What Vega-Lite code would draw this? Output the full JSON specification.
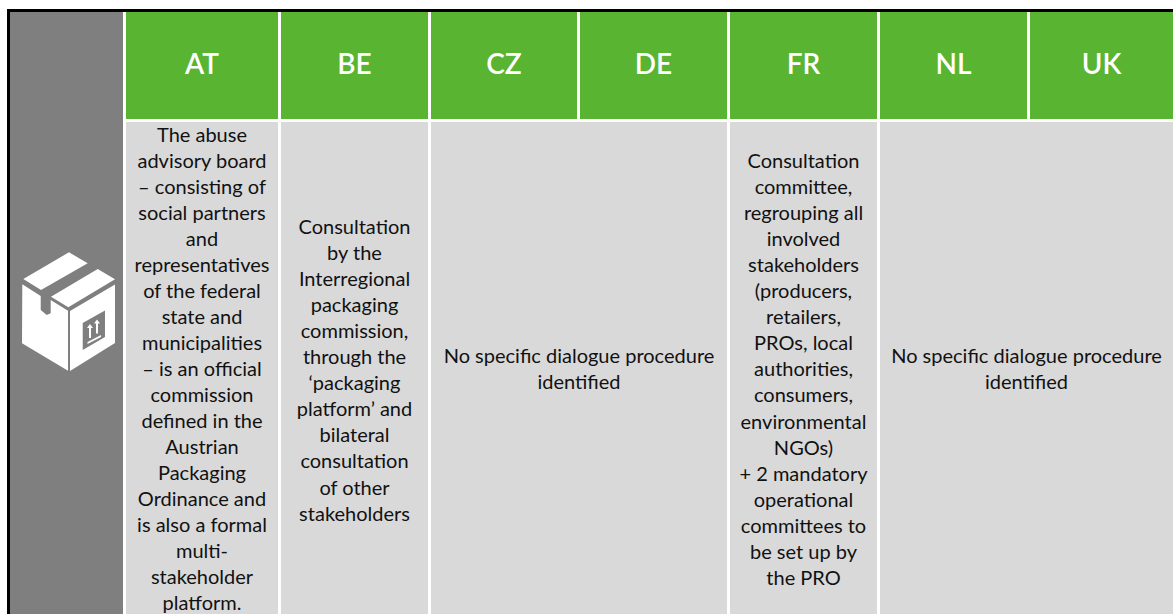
{
  "$schema": "https://vega.github.io/schema/vega-lite/v6.json",
  "width": 1173,
  "height": 614,
  "padding": 0,
  "autosize": "none",
  "background": "white",
  "view": {"stroke": null},
  "datasets": {
    "cells": [
      {"part": "frame", "col": "top", "x0": 7, "x1": 1173, "y0": 9, "y1": 12},
      {"part": "frame", "col": "left", "x0": 7, "x1": 10, "y0": 9, "y1": 614},
      {"part": "side", "col": "icon", "x0": 10, "x1": 123, "y0": 12, "y1": 614},
      {"part": "header", "col": "AT", "x0": 126, "x1": 278, "y0": 12, "y1": 119},
      {"part": "header", "col": "BE", "x0": 281, "x1": 428, "y0": 12, "y1": 119},
      {"part": "header", "col": "CZ", "x0": 431, "x1": 577, "y0": 12, "y1": 119},
      {"part": "header", "col": "DE", "x0": 580, "x1": 727, "y0": 12, "y1": 119},
      {"part": "header", "col": "FR", "x0": 730, "x1": 877, "y0": 12, "y1": 119},
      {"part": "header", "col": "NL", "x0": 880, "x1": 1027, "y0": 12, "y1": 119},
      {"part": "header", "col": "UK", "x0": 1030, "x1": 1173, "y0": 12, "y1": 119},
      {"part": "body", "col": "AT", "x0": 126, "x1": 278, "y0": 122, "y1": 614},
      {"part": "body", "col": "BE", "x0": 281, "x1": 428, "y0": 122, "y1": 614},
      {"part": "body", "col": "CZ-DE", "x0": 431, "x1": 727, "y0": 122, "y1": 614},
      {"part": "body", "col": "FR", "x0": 730, "x1": 877, "y0": 122, "y1": 614},
      {"part": "body", "col": "NL-UK", "x0": 880, "x1": 1173, "y0": 122, "y1": 614}
    ],
    "headers": [
      {"label": "AT", "cx": 202, "cy": 66},
      {"label": "BE", "cx": 354.5, "cy": 66},
      {"label": "CZ", "cx": 504, "cy": 66},
      {"label": "DE", "cx": 653.5, "cy": 66},
      {"label": "FR", "cx": 803.5, "cy": 66},
      {"label": "NL", "cx": 953.5, "cy": 66},
      {"label": "UK", "cx": 1101.5, "cy": 66}
    ],
    "bodies": [
      {"label": "The abuse\nadvisory board\n– consisting of\nsocial partners\nand\nrepresentatives\nof the federal\nstate and\nmunicipalities\n– is an official\ncommission\ndefined in the\nAustrian\nPackaging\nOrdinance and\nis also a formal\nmulti-\nstakeholder\nplatform.", "cx": 202, "cy": 135.5},
      {"label": "Consultation\nby the\nInterregional\npackaging\ncommission,\nthrough the\n‘packaging\nplatform’ and\nbilateral\nconsultation\nof other\nstakeholders", "cx": 354.5, "cy": 228},
      {"label": "No specific dialogue procedure\nidentified", "cx": 579, "cy": 357},
      {"label": "Consultation\ncommittee,\nregrouping all\ninvolved\nstakeholders\n(producers,\nretailers,\nPROs, local\nauthorities,\nconsumers,\nenvironmental\nNGOs)\n+ 2 mandatory\noperational\ncommittees to\nbe set up by\nthe PRO", "cx": 803.5, "cy": 162},
      {"label": "No specific dialogue procedure\nidentified", "cx": 1026.5, "cy": 357}
    ],
    "icons": [{"name": "packaging", "cx": 68.5, "cy": 311.5}]
  },
  "layer": [
    {
      "data": {"name": "cells"},
      "mark": {"type": "rect", "strokeWidth": 0},
      "encoding": {
        "x": {"field": "x0", "type": "quantitative", "scale": {"domain": [0, 1173], "range": [0, 1173], "nice": false, "zero": false}, "axis": null},
        "x2": {"field": "x1"},
        "y": {"field": "y0", "type": "quantitative", "scale": {"domain": [0, 614], "range": [0, 614], "nice": false, "zero": false}, "axis": null},
        "y2": {"field": "y1"},
        "color": {"field": "part", "type": "nominal", "legend": null, "scale": {"domain": ["frame", "side", "header", "body"], "range": ["#000000", "#7F7F7F", "#58B431", "#D9D9D9"]}}
      }
    },
    {
      "data": {"name": "icons"},
      "mark": {
        "type": "point", "filled": true, "fill": "#FFFFFF", "stroke": null, "opacity": 1, "size": 14400,
        "shape": "M0.008,-0.987L0.32,-0.803L-0.458,-0.358L-0.753,-0.542ZM0.487,-0.708L0.775,-0.537L-0.003,-0.07L-0.292,-0.247ZM-0.77,-0.453L-0.463,-0.258L-0.463,-0.025L-0.363,0.058L-0.297,0.03L-0.297,-0.192L-0.008,-0.013L-0.008,0.987L-0.775,0.53ZM0.025,-0.008L0.775,-0.45L0.775,0.525L0.025,0.992ZM0.237,0.192L0.237,0.642L0.608,0.425L0.608,-0.017ZM0.358,0.208L0.408,0.275L0.375,0.275L0.375,0.442L0.342,0.442L0.342,0.275L0.308,0.275ZM0.475,0.133L0.525,0.2L0.492,0.2L0.492,0.367L0.458,0.367L0.458,0.2L0.425,0.2ZM0.317,0.508L0.542,0.392L0.542,0.425L0.317,0.542Z"
      },
      "encoding": {
        "x": {"field": "cx", "type": "quantitative", "scale": {"domain": [0, 1173], "range": [0, 1173], "nice": false, "zero": false}, "axis": null},
        "y": {"field": "cy", "type": "quantitative", "scale": {"domain": [0, 614], "range": [0, 614], "nice": false, "zero": false}, "axis": null}
      }
    },
    {
      "data": {"name": "headers"},
      "mark": {"type": "text", "font": "Lato", "fontSize": 28, "fontWeight": 600, "color": "#FFFFFF", "align": "center", "baseline": "middle"},
      "encoding": {
        "x": {"field": "cx", "type": "quantitative", "scale": {"domain": [0, 1173], "range": [0, 1173], "nice": false, "zero": false}, "axis": null},
        "y": {"field": "cy", "type": "quantitative", "scale": {"domain": [0, 614], "range": [0, 614], "nice": false, "zero": false}, "axis": null},
        "text": {"field": "label", "type": "nominal"}
      }
    },
    {
      "data": {"name": "bodies"},
      "mark": {"type": "text", "font": "Lato", "fontSize": 20, "color": "#111111", "align": "center", "baseline": "middle", "lineBreak": "\n", "lineHeight": 26.05},
      "encoding": {
        "x": {"field": "cx", "type": "quantitative", "scale": {"domain": [0, 1173], "range": [0, 1173], "nice": false, "zero": false}, "axis": null},
        "y": {"field": "cy", "type": "quantitative", "scale": {"domain": [0, 614], "range": [0, 614], "nice": false, "zero": false}, "axis": null},
        "text": {"field": "label", "type": "nominal"}
      }
    }
  ]
}
